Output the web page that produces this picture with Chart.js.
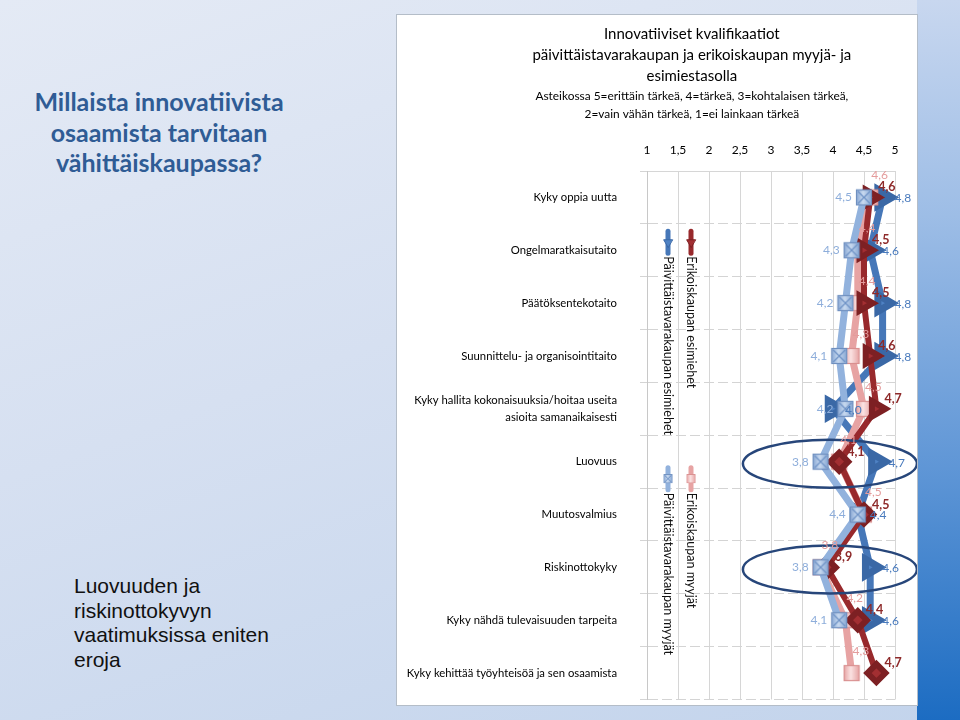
<!DOCTYPE html>
<html>
<head>
<meta charset="utf-8">
<script src="https://cdn.jsdelivr.net/npm/chart.js@4.4.1/dist/chart.umd.min.js"></script>
<style>
html,body{margin:0;padding:0;width:960px;height:720px;overflow:hidden;}
body{position:relative;background:linear-gradient(160deg,#e4eaf5 0%,#d6e0f1 45%,#c3d4ec 100%);}
#strip{position:absolute;left:917px;top:0;width:43px;height:720px;background:linear-gradient(180deg,#c8d7ef 0%,#9dbde6 30%,#5f96d6 65%,#1c6cc2 100%);}
#panel{position:absolute;left:396px;top:14px;width:522px;height:692px;background:#fff;border:1px solid #b4bdc8;box-sizing:border-box;}
#wrap{position:absolute;left:397px;top:15px;width:520px;height:705px;}
#title{position:absolute;left:0;width:318px;top:86px;text-align:center;font:bold 25px Lato,sans-serif;color:#2f5c95;line-height:30.5px;}
#note{position:absolute;left:74px;top:574px;font:21px "Liberation Sans",Arial,sans-serif;line-height:24.7px;color:#111;}
</style>
</head>
<body>
<div id="strip"></div>
<div id="title">Millaista innovatiivista<br>osaamista tarvitaan<br>vähittäiskaupassa?</div>
<div id="note">Luovuuden ja<br>riskinottokyvyn<br>vaatimuksissa eniten<br>eroja</div>
<div id="panel"></div>
<div id="wrap"><canvas id="c" width="520" height="705"></canvas></div>
<script>
// ---- data ----
const categories = [
  'Kyky oppia uutta',
  'Ongelmaratkaisutaito',
  'Päätöksentekotaito',
  'Suunnittelu- ja organisointitaito',
  ['Kyky hallita kokonaisuuksia/hoitaa useita', 'asioita samanaikaisesti'],
  'Luovuus',
  'Muutosvalmius',
  'Riskinottokyky',
  'Kyky nähdä tulevaisuuden tarpeita',
  'Kyky kehittää työyhteisöä ja sen osaamista'
];
const seriesNames = [
  'Päivittäistavarakaupan esimiehet',
  'Erikoiskaupan esimiehet',
  'Päivittäistavarakaupan myyjät',
  'Erikoiskaupan myyjät'
];
const ptEsimiehet = [4.8, 4.6, 4.8, 4.8, 4.0, 4.7, 4.4, 4.6, 4.6, null];
const erEsimiehet = [4.6, 4.5, 4.5, 4.6, 4.7, 4.1, 4.5, 3.9, 4.4, 4.7];
const ptMyyjat    = [4.5, 4.3, 4.2, 4.1, 4.2, 3.8, 4.4, 3.8, 4.1, null];
const erMyyjat    = [4.6, 4.4, 4.4, 4.3, 4.5, 4.1, 4.5, 3.8, 4.2, 4.3];
const xTickLabels = ['1', '1,5', '2', '2,5', '3', '3,5', '4', '4,5', '5'];
const titleLines = ['Innovatiiviset kvalifikaatiot', 'päivittäistavarakaupan ja erikoiskaupan myyjä- ja', 'esimiestasolla'];
const subtitleLines = ['Asteikossa 5=erittäin tärkeä, 4=tärkeä, 3=kohtalaisen tärkeä,', '2=vain vähän tärkeä, 1=ei lainkaan tärkeä'];
const highlighted = ['Luovuus', 'Riskinottokyky'];

// ---- styles ----
const FONT = 'Lato, "Open Sans", sans-serif';
const colBlue = '#4677b8', colRed = '#98292c', colLBlue = '#92b2dd', colPink = '#e7a3a3';

function squareImg(fill, edge, stroke, cross) {
  const c = document.createElement('canvas');
  c.width = 18; c.height = 18;
  const g = c.getContext('2d');
  const grd = g.createLinearGradient(0, 0, 18, 0);
  grd.addColorStop(0, edge); grd.addColorStop(0.45, fill); grd.addColorStop(1, edge);
  g.fillStyle = grd; g.fillRect(1, 1, 16, 16);
  g.strokeStyle = stroke; g.lineWidth = 1.2; g.strokeRect(1.5, 1.5, 15, 15);
  if (cross) {
    g.strokeStyle = '#6f93c6'; g.lineWidth = 1.3;
    g.beginPath(); g.moveTo(3, 3); g.lineTo(15, 15); g.moveTo(15, 3); g.lineTo(3, 15); g.stroke();
  }
  return c;
}
const lblueSq = squareImg('#c9daf0', '#7d9fcf', '#6f8fbf', true);
const pinkSq = squareImg('#fbe3e3', '#e29a9a', '#d99090', false);

const redStyles = erEsimiehet.map((v, i) => i < 5 ? 'triangle' : 'rectRot');
const redRot = erEsimiehet.map((v, i) => i < 5 ? 90 : 0);

const labelStyle = [
  {color: '#4a7bbd', font: '12px ' + FONT, align: 'left', dx: 12, dy: 1},
  {color: '#8e2a2a', font: 'bold 12.5px ' + FONT, align: 'left', dx: 8, dy: -10},
  {color: '#8eaedb', font: '12px ' + FONT, align: 'right', dx: -12, dy: 0},
  {color: '#e49c9c', font: '12px ' + FONT, align: 'left', dx: 1, dy: -22}
];

const fmt = v => v.toFixed(1).replace('.', ',');

const titles = {
  id: 'titles',
  afterDraw(chart) {
    const ctx = chart.ctx;
    const cx = chart.width * 0.567;
    ctx.save();
    ctx.fillStyle = '#000'; ctx.textAlign = 'center'; ctx.textBaseline = 'middle';
    ctx.font = '15px ' + FONT;
    titleLines.forEach((t, i) => ctx.fillText(t, cx, 19.5 + i * 20.6));
    ctx.font = '11.9px ' + FONT;
    subtitleLines.forEach((t, i) => ctx.fillText(t, cx, 81.5 + i * 18));
    ctx.restore();
  }
};

const extras = {
  id: 'extras',
  afterDatasetsDraw(chart) {
    const ctx = chart.ctx, xs = chart.scales.x, ys = chart.scales.y, ca = chart.chartArea;
    // ellipses around highlighted rows
    ctx.save();
    ctx.strokeStyle = '#27467a';
    ctx.lineWidth = 2.5;
    highlighted.forEach(name => {
      const idx = categories.indexOf(name);
      const cy = ys.getPixelForValue(idx) + 2;
      const cx = xs.getPixelForValue(3.95);
      ctx.beginPath();
      ctx.ellipse(cx, cy, 87, 24, 0, 0, Math.PI * 2);
      ctx.stroke();
    });
    ctx.restore();
    // value labels
    ctx.save();
    ctx.textBaseline = 'middle';
    [3, 2, 1, 0].forEach(di => {
      const meta = chart.getDatasetMeta(di);
      const ds = chart.data.datasets[di];
      const st = labelStyle[di];
      ctx.fillStyle = st.color; ctx.font = st.font; ctx.textAlign = st.align;
      meta.data.forEach((pt, i) => {
        const v = ds.data[i];
        if (v == null) return;
        ctx.fillText(fmt(v), pt.x + st.dx, pt.y + st.dy);
      });
    });
    ctx.restore();
    // vertical legend inside plot area
    ctx.save();
    const groups = [
      {sets: [0, 1], y: ys.getPixelForValue(1) - 8},
      {sets: [2, 3], y: ys.getPixelForValue(5) + 17}
    ];
    groups.forEach(gp => {
      gp.sets.forEach((di, k) => {
        const ds = chart.data.datasets[di];
        const x = ca.left + 21 + k * 23;
        ctx.strokeStyle = ds.borderColor; ctx.lineWidth = 5; ctx.lineCap = 'round';
        ctx.beginPath(); ctx.moveTo(x, gp.y - 11); ctx.lineTo(x, gp.y + 11); ctx.stroke();
        const style = Array.isArray(ds.pointStyle) ? ds.pointStyle[0] : ds.pointStyle;
        ctx.fillStyle = ds.pointBackgroundColor; ctx.strokeStyle = ds.pointBorderColor; ctx.lineWidth = 1;
        if (typeof style === 'string') {
          Chart.helpers.drawPoint(ctx, {pointStyle: style, rotation: 180, radius: 5, borderWidth: 1}, x, gp.y);
        } else {
          ctx.drawImage(style, x - 5, gp.y - 5, 10, 10);
        }
        ctx.save();
        ctx.translate(x, gp.y + 14);
        ctx.rotate(Math.PI / 2);
        ctx.fillStyle = '#111'; ctx.font = '12.5px ' + FONT;
        ctx.textAlign = 'left'; ctx.textBaseline = 'middle';
        ctx.fillText(seriesNames[di], 0, 0);
        ctx.restore();
      });
    });
    ctx.restore();
  }
};

Chart.defaults.color = '#000';
Chart.defaults.font.family = FONT;

new Chart(document.getElementById('c'), {
  type: 'line',
  data: {
    labels: categories,
    datasets: [
      {label: seriesNames[0], data: ptEsimiehet, borderColor: colBlue, backgroundColor: colBlue,
       pointBackgroundColor: '#4f82c4', pointBorderColor: '#3a68a6', pointStyle: 'triangle', pointRotation: 90,
       pointRadius: 9.5, borderWidth: 7, order: 4},
      {label: seriesNames[1], data: erEsimiehet, borderColor: colRed, backgroundColor: colRed,
       pointBackgroundColor: '#a32f32', pointBorderColor: '#7d2023', pointStyle: redStyles, pointRotation: redRot,
       pointRadius: 9, borderWidth: 6, order: 2},
      {label: seriesNames[2], data: ptMyyjat, borderColor: colLBlue, backgroundColor: colLBlue,
       pointBackgroundColor: colLBlue, pointBorderColor: '#6f8fbf', pointStyle: lblueSq,
       pointRadius: 9, borderWidth: 7, order: 1},
      {label: seriesNames[3], data: erMyyjat, borderColor: colPink, backgroundColor: colPink,
       pointBackgroundColor: colPink, pointBorderColor: '#d99090', pointStyle: pinkSq,
       pointRadius: 9, borderWidth: 7, order: 3}
    ]
  },
  options: {
    indexAxis: 'y',
    responsive: false,
    animation: false,
    events: [],
    clip: false,
    layout: {padding: {left: 0, right: 22, top: 113.6, bottom: 20.5}},
    elements: {line: {tension: 0, borderJoinStyle: 'round', borderCapStyle: 'round'}},
    plugins: {
      legend: {display: false},
      tooltip: {enabled: false},
      title: {display: false},
      subtitle: {display: false}
    },
    scales: {
      x: {
        type: 'linear', position: 'top', min: 1, max: 5,
        ticks: {stepSize: 0.5, padding: 14, font: {size: 12, family: FONT}, color: '#000',
                callback: (v, i) => xTickLabels[i]},
        grid: {color: '#d6d6d6', drawTicks: false, lineWidth: 1},
        border: {display: true, color: '#d6d6d6'},
        afterFit: s => { s.paddingLeft = 0; s.paddingRight = 0; }
      },
      y: {
        type: 'category',
        offset: true,
        ticks: {padding: 23, font: {size: 11.3, family: FONT, lineHeight: 1.5}, color: '#000'},
        grid: {offset: true, color: '#d4d4d4', drawTicks: true, tickLength: 7},
        border: {display: true, color: '#c8c8c8', dash: [10, 4]},
        afterFit: s => { s.width = 250; s.paddingTop = 0; s.paddingBottom = 0; }
      }
    }
  },
  plugins: [extras, titles]
});
</script>
</body>
</html>
